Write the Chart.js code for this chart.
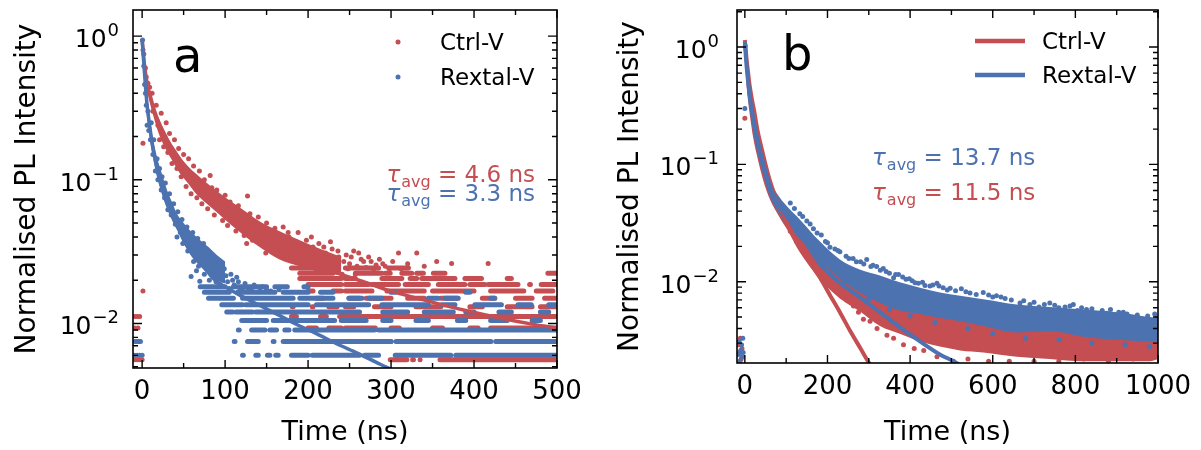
<!DOCTYPE html>
<html>
<head>
<meta charset="utf-8">
<script src="https://cdn.jsdelivr.net/npm/chart.js@4.4.1/dist/chart.umd.min.js"></script>
<style>
  html, body { margin: 0; padding: 0; background: #fff; }
  #wrap { position: relative; width: 1201px; height: 450px; overflow: hidden; background: #fff; }
  #chartA { position: absolute; left: 0; top: 0; }
  #chartB { position: absolute; left: 600px; top: 0; }
</style>
</head>
<body>
<div id="wrap">
  <canvas id="chartA" width="600" height="450"></canvas>
  <canvas id="chartB" width="601" height="450"></canvas>
</div>
<script>
const RED = '#c44e52';
const BLUE = '#4c72b0';
const FONT = 'DejaVu Sans';

const seriesNames = ['Ctrl-V', 'Rextal-V'];
const tauA = ['4.6', '3.3'];   // ctrl, rextal
const tauB = ['11.5', '13.7'];

// ---------- panel a : axes ----------
const xTicksA = [0, 100, 200, 300, 400, 500];
const xMinorA = [50, 150, 250, 350, 450];
const yDecadesA = [0.01, 0.1, 1];
const yExpA = ['\u22122', '\u22121', '0'];

// ---------- panel a : Ctrl-V ----------
const ctrlA_bandT  = [1, 3, 6, 10, 15, 20, 27, 35, 45, 55, 65, 78, 92, 108, 125, 145, 165, 190, 215, 240];
const ctrlA_bandHi = [0.92, 0.66, 0.5, 0.4, 0.32, 0.27, 0.22, 0.18, 0.145, 0.125, 0.11, 0.095, 0.082, 0.07, 0.06, 0.05, 0.044, 0.038, 0.033, 0.029];
const ctrlA_bandLo = [0.84, 0.55, 0.42, 0.33, 0.26, 0.21, 0.17, 0.14, 0.112, 0.095, 0.08, 0.068, 0.058, 0.048, 0.04, 0.033, 0.028, 0.025, 0.023, 0.0215];
const ctrlA_pts = [
  [-9,0.0112],[-6,0.0112],[-3,0.0112],[1,0.0168],[-9,0.0093],[-5,0.0093],[-8,0.0075],[-4,0.0075],
  [-9,0.0056],[-6,0.0056],[-3,0.0056],[0,0.0056],
  [1,0.18],[2,0.75],[4,0.6],[5,0.52],[7,0.47],[9,0.44],[12,0.4],[13,0.3],[17,0.33],[19,0.24],[21,0.19],
  [23,0.29],[26,0.17],[29,0.25],[31,0.155],[33,0.21],[36,0.13],[39,0.19],[42,0.12],[44,0.165],[47,0.105],
  [50,0.15],[53,0.09],[56,0.14],[59,0.08],[62,0.125],[66,0.075],[69,0.115],[72,0.068],[75,0.1],[79,0.063],
  [82,0.107],[84,0.088],[87,0.057],[90,0.085],[94,0.072],[97,0.052],[100,0.078],[103,0.048],[106,0.07],
  [110,0.058],[113,0.044],[116,0.066],[120,0.05],[123,0.041],[127,0.077],[130,0.058],[133,0.038],[136,0.05],
  [140,0.055],[143,0.036],[146,0.045],[150,0.05],[153,0.033],[156,0.042],[160,0.046],[163,0.031],[166,0.038],
  [170,0.047],[174,0.029],[177,0.04],[181,0.035],[184,0.027],[188,0.043],[191,0.031],[195,0.025],[198,0.038],
  [202,0.028],[206,0.034],[209,0.024],[213,0.036],[217,0.027],[221,0.031],[225,0.023],[229,0.033],[233,0.026],
  [237,0.029],[241,0.022],[246,0.03],[250,0.026],[255,0.032],[259,0.025],[264,0.028],[270,0.0245],[276,0.027],
  [282,0.0255],[290,0.026],[298,0.024],[309,0.031],[331,0.031],[373,0.0262],[417,0.0262],
  [121,0.045],[126,0.036],[131,0.047],[138,0.042],[144,0.039],[149,0.031],[152,0.043],[158,0.036],[161,0.04],
  [168,0.033],[172,0.036],[176,0.043],[179,0.03],[186,0.037],[193,0.035],[196,0.028],[200,0.033],[204,0.04],
  [211,0.03],[215,0.025],[219,0.034],[224,0.028],[227,0.037],[231,0.024],[236,0.032],[243,0.027],[248,0.024],
  [252,0.029],[257,0.022],[261,0.031],[267,0.027],[273,0.029],[279,0.023],[286,0.028],[293,0.025],[302,0.027],
  [312,0.024],[320,0.026],[340,0.025],[355,0.027]
];
// quantised tail: [level, start, end, start, end, ...]
const ctrlA_rows = [
  [0.0056, 299,319, 326,327, 335,336, 359,500],
  [0.0075, 232,240, 250,268, 285,300, 330,352, 372,380, 410,420],
  [0.0093, 200,210, 225,240, 245,281, 300,310, 350,362, 395,405, 420,500],
  [0.0112, 180,186, 215,222, 238,498],
  [0.0131, 181,182, 205,206, 225,235, 245,255, 280,300, 330,360, 395,410, 440,470, 480,500],
  [0.0150, 210,218, 250,262, 270,300, 320,340, 360,380, 410,425, 450,470, 485,500],
  [0.0168, 200,206, 230,240, 245,277, 295,340, 350,400, 420,460, 475,495],
  [0.0187, 200,240, 245,273, 277,309, 317,345, 357,389, 395,413, 417,453, 467,468, 481,500],
  [0.0206, 190,240, 245,257, 289,313, 323,331, 337,377, 389,409, 440,445],
  [0.0224, 190,230, 257,289, 293,299, 313,325, 331,339, 351,365, 489,500],
  [0.0243, 180,220, 245,285, 297,321]
];
const ctrlA_fitT = [0, 3, 6, 10, 15, 20, 30, 40, 50, 65, 80, 100, 120, 140, 160, 180, 211, 240, 266, 300, 347, 390, 428, 470, 500];
const ctrlA_fitY = [0.95, 0.62, 0.47, 0.38, 0.3, 0.25, 0.19, 0.155, 0.128, 0.1, 0.082, 0.065, 0.053, 0.044, 0.036, 0.031, 0.0258, 0.022, 0.0196, 0.0168, 0.0142, 0.0123, 0.011, 0.0099, 0.0093];

// ---------- panel a : Rextal-V ----------
const rextA_bandT  = [0.5, 2, 4, 6, 9, 12, 16, 20, 25, 30, 36, 42, 50, 60, 70, 80, 90, 100];
const rextA_bandHi = [0.94, 0.72, 0.5, 0.38, 0.28, 0.21, 0.16, 0.13, 0.105, 0.085, 0.07, 0.058, 0.05, 0.043, 0.038, 0.034, 0.03, 0.027];
const rextA_bandLo = [0.86, 0.55, 0.36, 0.27, 0.2, 0.155, 0.12, 0.097, 0.078, 0.064, 0.053, 0.045, 0.036, 0.029, 0.025, 0.022, 0.02, 0.019];
const rextA_pts = [
  [-8,0.0075],[-5,0.0075],[-2,0.0075],[-9,0.006],[-6,0.006],[-3,0.006],[0,0.006],
  [0.5,0.94],[1,0.8],[2,0.62],[3,0.46],[4,0.4],[5,0.33],[6,0.24],[7,0.3],[8,0.22],[10,0.19],[11,0.25],
  [13,0.15],[14,0.19],[16,0.115],[18,0.14],[19,0.1],[21,0.12],[23,0.085],[24,0.105],[27,0.075],[28,0.095],
  [31,0.062],[33,0.08],[35,0.057],[38,0.068],[40,0.049],[43,0.06],[46,0.043],[48,0.053],[51,0.039],[54,0.047],
  [57,0.035],[59,0.0212],[61,0.043],[63,0.031],[65.5,0.0233],[67,0.039],[69.5,0.0197],[71,0.028],[74,0.036],
  [77,0.025],[80,0.031],[83,0.022],[86,0.029],[89,0.0195],[92,0.026],[95,0.021],[99,0.024],[103,0.0195],
  [107,0.022],[111,0.0185],[114,0.021],[118,0.0175],[124,0.019],[130,0.0172],[135,0.0185],[142,0.0168],[150,0.0172],
  [42,0.04],[45,0.052],[49,0.036],[52,0.044],[55,0.032],[58,0.04],[62,0.027],[66,0.033],[68,0.025],[72,0.032],
  [75,0.022],[79,0.028],[81,0.02],[85,0.025],[88,0.023],[91,0.018],[94,0.023],[97,0.02],[101,0.0215],
  [105,0.0175],[109,0.02],[116,0.0195],[121,0.0175],[127,0.0168],[133,0.0178],[145,0.018],[155,0.0168],[165,0.0172]
];
const rextA_rows = [
  [0.0060, 121,122, 137,140, 151,154, 161,164, 180,200, 205,262, 268,285, 305,372, 378,500],
  [0.0075, 111,112, 127,140, 158,159, 170,300, 306,420, 426,500],
  [0.0090, 116,117, 132,148, 154,162, 172,177, 184,280, 285,500],
  [0.0105, 120,150, 158,232, 240,270, 290,300, 330,345, 380,390, 420,440, 470,480],
  [0.0120, 102,109, 113,133, 137,262, 290,320, 340,375, 390,400, 430,445, 480,490],
  [0.0135, 96,121, 125,200, 210,273, 289,345, 361,377, 401,433, 453,469, 490,500],
  [0.0150, 80,110, 121,182, 190,230, 249,265, 273,289, 345,357, 365,381, 420,425],
  [0.0165, 75,105, 115,160, 170,200, 215,230, 300,305, 390,395],
  [0.0180, 70,100, 110,150, 160,175, 195,200]
];
const rextA_fitT = [0, 2, 4, 6, 9, 12, 16, 20, 25, 30, 40, 50, 60, 72, 86, 100, 120, 139, 160, 187, 210, 235, 260, 287, 300];
const rextA_fitY = [0.95, 0.65, 0.45, 0.33, 0.24, 0.18, 0.135, 0.105, 0.083, 0.068, 0.05, 0.04, 0.033, 0.026, 0.0205, 0.018, 0.0155, 0.0136, 0.0118, 0.0098, 0.0085, 0.0072, 0.0062, 0.0052, 0.0048];

// ---------- panel b : axes ----------
const xTicksB = [0, 200, 400, 600, 800, 1000];
const xMinorB = [100, 300, 500, 700, 900];
const yDecadesB = [0.01, 0.1, 1];
const yExpB = ['\u22122', '\u22121', '0'];

// ---------- panel b : Ctrl-V ----------
const ctrlB_bandT  = [0, 2, 4, 7, 10, 14, 20, 29, 44, 61, 85, 102, 133, 182, 230, 278, 327, 375, 424, 472, 521, 577, 658, 738, 819, 900, 980, 1000];
const ctrlB_bandHi = [1.12, 0.92, 0.72, 0.56, 0.45, 0.35, 0.26, 0.175, 0.105, 0.07, 0.047, 0.038, 0.027, 0.017, 0.0115, 0.0088, 0.007, 0.006, 0.0055, 0.0051, 0.0048, 0.0045, 0.0041, 0.004, 0.0038, 0.0037, 0.0038, 0.0039];
const ctrlB_bandLo = [0.85, 0.62, 0.48, 0.37, 0.3, 0.235, 0.17, 0.12, 0.074, 0.05, 0.035, 0.028, 0.0178, 0.0105, 0.0072, 0.0056, 0.0042, 0.0036, 0.0031, 0.0028, 0.0026, 0.0025, 0.0023, 0.0022, 0.0021, 0.0021, 0.0021, 0.0022];
const ctrlB_pts = [
  [-13,0.0025],[-9,0.0022],[-11,0.0033],[-7,0.0027],[-16,0.0029],
  [0,0.247],[61,0.06],[75,0.048],[85.5,0.04],[98,0.033],[110,0.027],[125,0.022],[142,0.0185],[155,0.016],
  [166,0.015],[182,0.0118],[195,0.0108],[206,0.0095],[223,0.0084],[235,0.0075],[247,0.007],[263,0.0062],
  [275,0.0055],[287,0.0048],[303,0.0046],[320,0.004],[344,0.0035],[360,0.0033],[384,0.0029],[410,0.0027],
  [433,0.0026],[465,0.0023],[505,0.0021],[540,0.0022],[590,0.0021],[640,0.0021],[700,0.0021],[760,0.0021],
  [820,0.0022],[880,0.0021],[940,0.0022],[970,0.0041],[990,0.0045],[995,0.0042],
  [520,0.0052],[600,0.0047],[650,0.0045],[700,0.0044],[800,0.0041],[860,0.0043],[930,0.004]
];
const ctrlB_fitT = [0, 4, 8, 12, 17, 23, 30, 40, 50, 62, 75, 85, 110, 133, 160, 182, 205, 230, 255, 280, 302, 312];
const ctrlB_fitY = [1.15, 0.8, 0.6, 0.46, 0.36, 0.28, 0.2, 0.14, 0.1, 0.07, 0.052, 0.043, 0.028, 0.02, 0.0142, 0.0108, 0.0078, 0.0055, 0.0038, 0.0027, 0.002, 0.0018];

// ---------- panel b : Rextal-V ----------
const rextB_bandT  = [0, 2, 4, 7, 10, 14, 20, 29, 44, 61, 85, 102, 133, 182, 230, 278, 327, 375, 424, 472, 521, 577, 658, 738, 819, 900, 980, 1000];
const rextB_bandHi = [1.1, 0.95, 0.75, 0.58, 0.47, 0.37, 0.28, 0.19, 0.112, 0.072, 0.052, 0.044, 0.034, 0.022, 0.0155, 0.0127, 0.0113, 0.0099, 0.0089, 0.0081, 0.0076, 0.0071, 0.0064, 0.0061, 0.0058, 0.0055, 0.005, 0.0049];
const rextB_bandLo = [0.88, 0.67, 0.52, 0.4, 0.33, 0.26, 0.19, 0.133, 0.083, 0.053, 0.037, 0.03, 0.023, 0.0152, 0.0106, 0.0081, 0.0066, 0.0057, 0.0053, 0.0049, 0.0046, 0.0042, 0.0037, 0.0038, 0.0034, 0.0032, 0.0031, 0.0031];
const rextB_pts = [
  [-14,0.0031],[-10,0.0026],[-6,0.0023],[-12,0.0021],[-8,0.0029],[-4,0.0025],[-15,0.0024],[-5,0.0033],
  [0,0.3],[1,1.02],[133,0.038],[150,0.033],[166,0.0283],[175,0.026],[195,0.022],[206,0.0197],[218,0.019],
  [230,0.018],[245,0.0165],[262,0.0158],[280,0.0148],[295,0.0155],[310,0.0138],[319,0.0135],[335,0.013],
  [350,0.0118],[360,0.0108],[372,0.0115],[390,0.0105],[405,0.0102],[420,0.0097],[436,0.0093],[448,0.0092],
  [465,0.0097],[480,0.0089],[497,0.0088],[524,0.0087],[545,0.008],[577,0.0081],[600,0.0074],[609,0.0076],
  [630,0.0072],[666,0.0066],[690,0.0064],[712,0.0061],[738,0.0066],[760,0.006],[787,0.0062],[805,0.0057],
  [827,0.0058],[850,0.0053],[876,0.0054],[895,0.0051],[916,0.0055],[940,0.0049],[964,0.0048],[988,0.0046],
  [998,0.0049],
  [190,0.0142],[240,0.0098],[300,0.0071],[350,0.0058],[400,0.0051],[460,0.0045],[540,0.004],[600,0.0036],
  [680,0.0033],[760,0.0032],[840,0.003],[920,0.0029],[980,0.0028],
  [110,0.047],[120,0.042],[140,0.036],[158,0.031],[185,0.025],[200,0.0215],[225,0.0185],[252,0.0158],
  [270,0.0148],[288,0.0142],[305,0.0135],[328,0.0125],[342,0.0122],[365,0.0115],[382,0.011],[398,0.0106],
  [412,0.0098],[430,0.0099],[455,0.0094],[470,0.0092],[490,0.0085],[510,0.0084],[535,0.0082],[560,0.0078],
  [590,0.0077],[620,0.0074],[645,0.007],[675,0.0069],[700,0.0067],[725,0.0064],[750,0.0063],[775,0.0061],
  [795,0.0064],[815,0.006],[840,0.0059],[865,0.0057],[885,0.0058],[905,0.0055],[925,0.0053],[950,0.0052],
  [975,0.0051],[992,0.0053]
];
const rextB_fitT = [0, 4, 8, 12, 17, 23, 30, 40, 50, 62, 75, 90, 105, 125, 150, 182, 230, 278, 327, 375, 424, 472, 515, 530];
const rextB_fitY = [1.1, 0.7, 0.5, 0.38, 0.29, 0.22, 0.165, 0.118, 0.087, 0.063, 0.05, 0.041, 0.035, 0.028, 0.021, 0.0142, 0.0098, 0.0074, 0.0055, 0.0041, 0.0031, 0.0024, 0.002, 0.0018];

// ---------- helpers ----------
const toPts = arr => arr.map(p => ({x: p[0], y: p[1]}));
const curve = (ts, ys) => ts.map((t, i) => ({x: t, y: ys[i]}));
function rowsToLine(rows) {
  const out = [];
  rows.forEach(r => {
    for (let i = 1; i < r.length; i += 2) {
      out.push({x: r[i], y: r[0]}, {x: r[i + 1], y: r[0]}, {x: r[i + 1], y: null});
    }
  });
  return out;
}
function dots(data, color, order) {
  return {data, showLine: false, pointRadius: 2.5, pointHoverRadius: 0, pointBorderWidth: 0,
    pointBackgroundColor: color, borderColor: color, order, clip: 0};
}
function rowLine(data, color, order) {
  return {data, borderColor: color, borderWidth: 5, borderCapStyle: 'round', pointRadius: 0,
    spanGaps: false, fill: false, order, clip: 0};
}
function bandPair(t, hi, lo, color, order) {
  return [
    {data: curve(t, hi), fill: '+1', backgroundColor: color, borderColor: 'rgba(0,0,0,0)', borderWidth: 0,
     pointRadius: 0, cubicInterpolationMode: 'monotone', order, clip: 0},
    {data: curve(t, lo), fill: false, borderColor: 'rgba(0,0,0,0)', borderWidth: 0,
     pointRadius: 0, cubicInterpolationMode: 'monotone', order, clip: 0}
  ];
}
function fitLine(data, color, width, order) {
  return {data, borderColor: color, borderWidth: width, pointRadius: 0, fill: false,
    cubicInterpolationMode: 'monotone', order, clip: 0};
}

function drawTau(ctx, x, y, val, color, alignRight) {
  const ital = 'italic 23px ' + FONT, small = '16px ' + FONT, big = '23px ' + FONT;
  ctx.font = ital; const w1 = ctx.measureText('\u03c4').width;
  ctx.font = small; const w2 = ctx.measureText('avg').width;
  const rest = ' = ' + val + ' ns';
  ctx.font = big; const w3 = ctx.measureText(rest).width;
  const x0 = alignRight ? x - (w1 + w2 + w3 + 1) : x;
  ctx.fillStyle = color; ctx.textAlign = 'left'; ctx.textBaseline = 'alphabetic';
  ctx.font = ital; ctx.fillText('\u03c4', x0, y);
  ctx.font = small; ctx.fillText('avg', x0 + w1 + 1, y + 5);
  ctx.font = big; ctx.fillText(rest, x0 + w1 + w2 + 1, y);
}

function framePlugin(p) {
  return {
    id: 'frame' + p.letter,
    afterDraw(chart) {
      const {ctx, chartArea: a, scales: {x, y}} = chart;
      ctx.save();
      ctx.strokeStyle = '#000';
      ctx.lineWidth = 1.4;
      ctx.beginPath();
      const tx = (v, len) => {
        const px = x.getPixelForValue(v);
        ctx.moveTo(px, a.bottom); ctx.lineTo(px, a.bottom - len);
        ctx.moveTo(px, a.top); ctx.lineTo(px, a.top + len);
      };
      const ty = (v, len) => {
        const py = y.getPixelForValue(v);
        if (py < a.top - 0.5 || py > a.bottom + 0.5) return;
        ctx.moveTo(a.left, py); ctx.lineTo(a.left + len, py);
        ctx.moveTo(a.right, py); ctx.lineTo(a.right - len, py);
      };
      p.xMajor.forEach(v => tx(v, 8));
      p.xMinor.forEach(v => tx(v, 5));
      p.yDec.forEach(v => ty(v, 9));
      [0.001, 0.01, 0.1, 1].forEach(d => { for (let k = 2; k <= 9; k++) ty(k * d, 5); });
      ctx.stroke();
      ctx.lineWidth = 1.6;
      ctx.strokeRect(a.left, a.top, a.right - a.left, a.bottom - a.top);

      // y tick labels 10^n
      ctx.fillStyle = '#000';
      ctx.textBaseline = 'alphabetic';
      ctx.textAlign = 'left';
      p.yDec.forEach((v, i) => {
        const py = y.getPixelForValue(v);
        ctx.font = '25px ' + FONT; const wb = ctx.measureText('10').width;
        ctx.font = '18px ' + FONT; const ws = ctx.measureText(p.yExp[i]).width;
        const x0 = a.left - p.labGap - wb - ws;
        ctx.font = '25px ' + FONT; ctx.fillText('10', x0, py + 11);
        ctx.font = '18px ' + FONT; ctx.fillText(p.yExp[i], x0 + wb + 1, py);
      });

      // panel letter
      ctx.font = '48px ' + FONT;
      ctx.fillText(p.letter, p.letterX, p.letterY);

      // legend
      ctx.font = '23px ' + FONT;
      const colors = [RED, BLUE];
      p.legY.forEach((ly, i) => {
        if (p.legLines) {
          ctx.strokeStyle = colors[i]; ctx.lineWidth = 4.5;
          ctx.beginPath(); ctx.moveTo(p.legX, ly); ctx.lineTo(p.legX + 50, ly); ctx.stroke();
        } else {
          ctx.fillStyle = colors[i];
          ctx.beginPath(); ctx.arc(p.legX, ly, 2.5, 0, Math.PI * 2); ctx.fill();
        }
        ctx.fillStyle = '#000';
        ctx.fillText(seriesNames[i], p.legTextX, ly + 8);
      });

      // tau annotations
      p.tau.forEach(t => drawTau(ctx, t.x, t.y, t.val, t.color, t.right));
      ctx.restore();
    }
  };
}

function makeChart(id, o) {
  return new Chart(document.getElementById(id), {
    type: 'line',
    data: {datasets: o.datasets},
    options: {
      responsive: false,
      animation: false,
      events: [],
      layout: {padding: {left: 0, top: 10, right: 43, bottom: 0}},
      plugins: {legend: {display: false}, tooltip: {enabled: false}},
      scales: {
        x: {
          type: 'linear', min: o.xMin, max: o.xMax,
          grid: {display: false, drawTicks: false}, border: {display: false},
          ticks: {font: {family: FONT, size: 26}, color: '#000', padding: 9, maxRotation: 0, autoSkip: false,
                  callback: v => String(v)},
          afterBuildTicks: s => { s.ticks = o.xTicks.map(v => ({value: v})); },
          afterFit: s => { s.height = o.xHeight; },
          title: {display: true, text: 'Time (ns)', color: '#000', font: {family: FONT, size: 27},
                  padding: {top: 0, bottom: 1}}
        },
        y: {
          type: 'logarithmic', min: o.yMin, max: o.yMax,
          grid: {display: false, drawTicks: false}, border: {display: false},
          ticks: {display: false},
          afterBuildTicks: s => { s.ticks = o.yDec.map(v => ({value: v})); },
          afterFit: s => { s.width = o.yWidth; },
          title: {display: true, text: 'Normalised PL Intensity', color: '#000', font: {family: FONT, size: 28},
                  padding: {top: o.yTitlePad, bottom: 0}}
        }
      }
    },
    plugins: [o.plugin]
  });
}

// ---------- panel a ----------
makeChart('chartA', {
  xMin: -11, xMax: 500, yMin: 0.0049, yMax: 1.52, xTicks: xTicksA, yDec: yDecadesA,
  xHeight: 82, yWidth: 133, yTitlePad: 11,
  datasets: [
    fitLine(curve(rextA_fitT, rextA_fitY), BLUE, 3.5, 0),
    fitLine(curve(ctrlA_fitT, ctrlA_fitY), RED, 3.5, 1),
    dots(toPts(rextA_pts), BLUE, 2),
    rowLine(rowsToLine(rextA_rows), BLUE, 3),
    ...bandPair(rextA_bandT, rextA_bandHi, rextA_bandLo, BLUE, 4),
    dots(toPts(ctrlA_pts), RED, 5),
    rowLine(rowsToLine(ctrlA_rows), RED, 6),
    ...bandPair(ctrlA_bandT, ctrlA_bandHi, ctrlA_bandLo, RED, 7)
  ],
  plugin: framePlugin({
    letter: 'a', letterX: 173, letterY: 72,
    xMajor: xTicksA, xMinor: xMinorA, yDec: yDecadesA, yExp: yExpA, labGap: 15,
    legLines: false, legX: 398, legTextX: 440, legY: [42, 77],
    tau: [
      {x: 535, y: 182, val: tauA[0], color: RED, right: true},
      {x: 535, y: 201, val: tauA[1], color: BLUE, right: true}
    ]
  })
});

// ---------- panel b ----------
makeChart('chartB', {
  xMin: -19, xMax: 1000, yMin: 0.00203, yMax: 2.07, xTicks: xTicksB, yDec: yDecadesB,
  xHeight: 87, yWidth: 137, yTitlePad: 14,
  datasets: [
    fitLine(curve(rextB_fitT, rextB_fitY), BLUE, 4, 0),
    fitLine(curve(ctrlB_fitT, ctrlB_fitY), RED, 4, 1),
    dots(toPts(rextB_pts), BLUE, 2),
    ...bandPair(rextB_bandT, rextB_bandHi, rextB_bandLo, BLUE, 3),
    dots(toPts(ctrlB_pts), RED, 4),
    ...bandPair(ctrlB_bandT, ctrlB_bandHi, ctrlB_bandLo, RED, 5)
  ],
  plugin: framePlugin({
    letter: 'b', letterX: 182, letterY: 70,
    xMajor: xTicksB, xMinor: xMinorB, yDec: yDecadesB, yExp: yExpB, labGap: 19,
    legLines: true, legX: 375, legTextX: 442, legY: [41, 75],
    tau: [
      {x: 272, y: 165, val: tauB[1], color: BLUE, right: false},
      {x: 272, y: 200, val: tauB[0], color: RED, right: false}
    ]
  })
});
</script>
</body>
</html>
